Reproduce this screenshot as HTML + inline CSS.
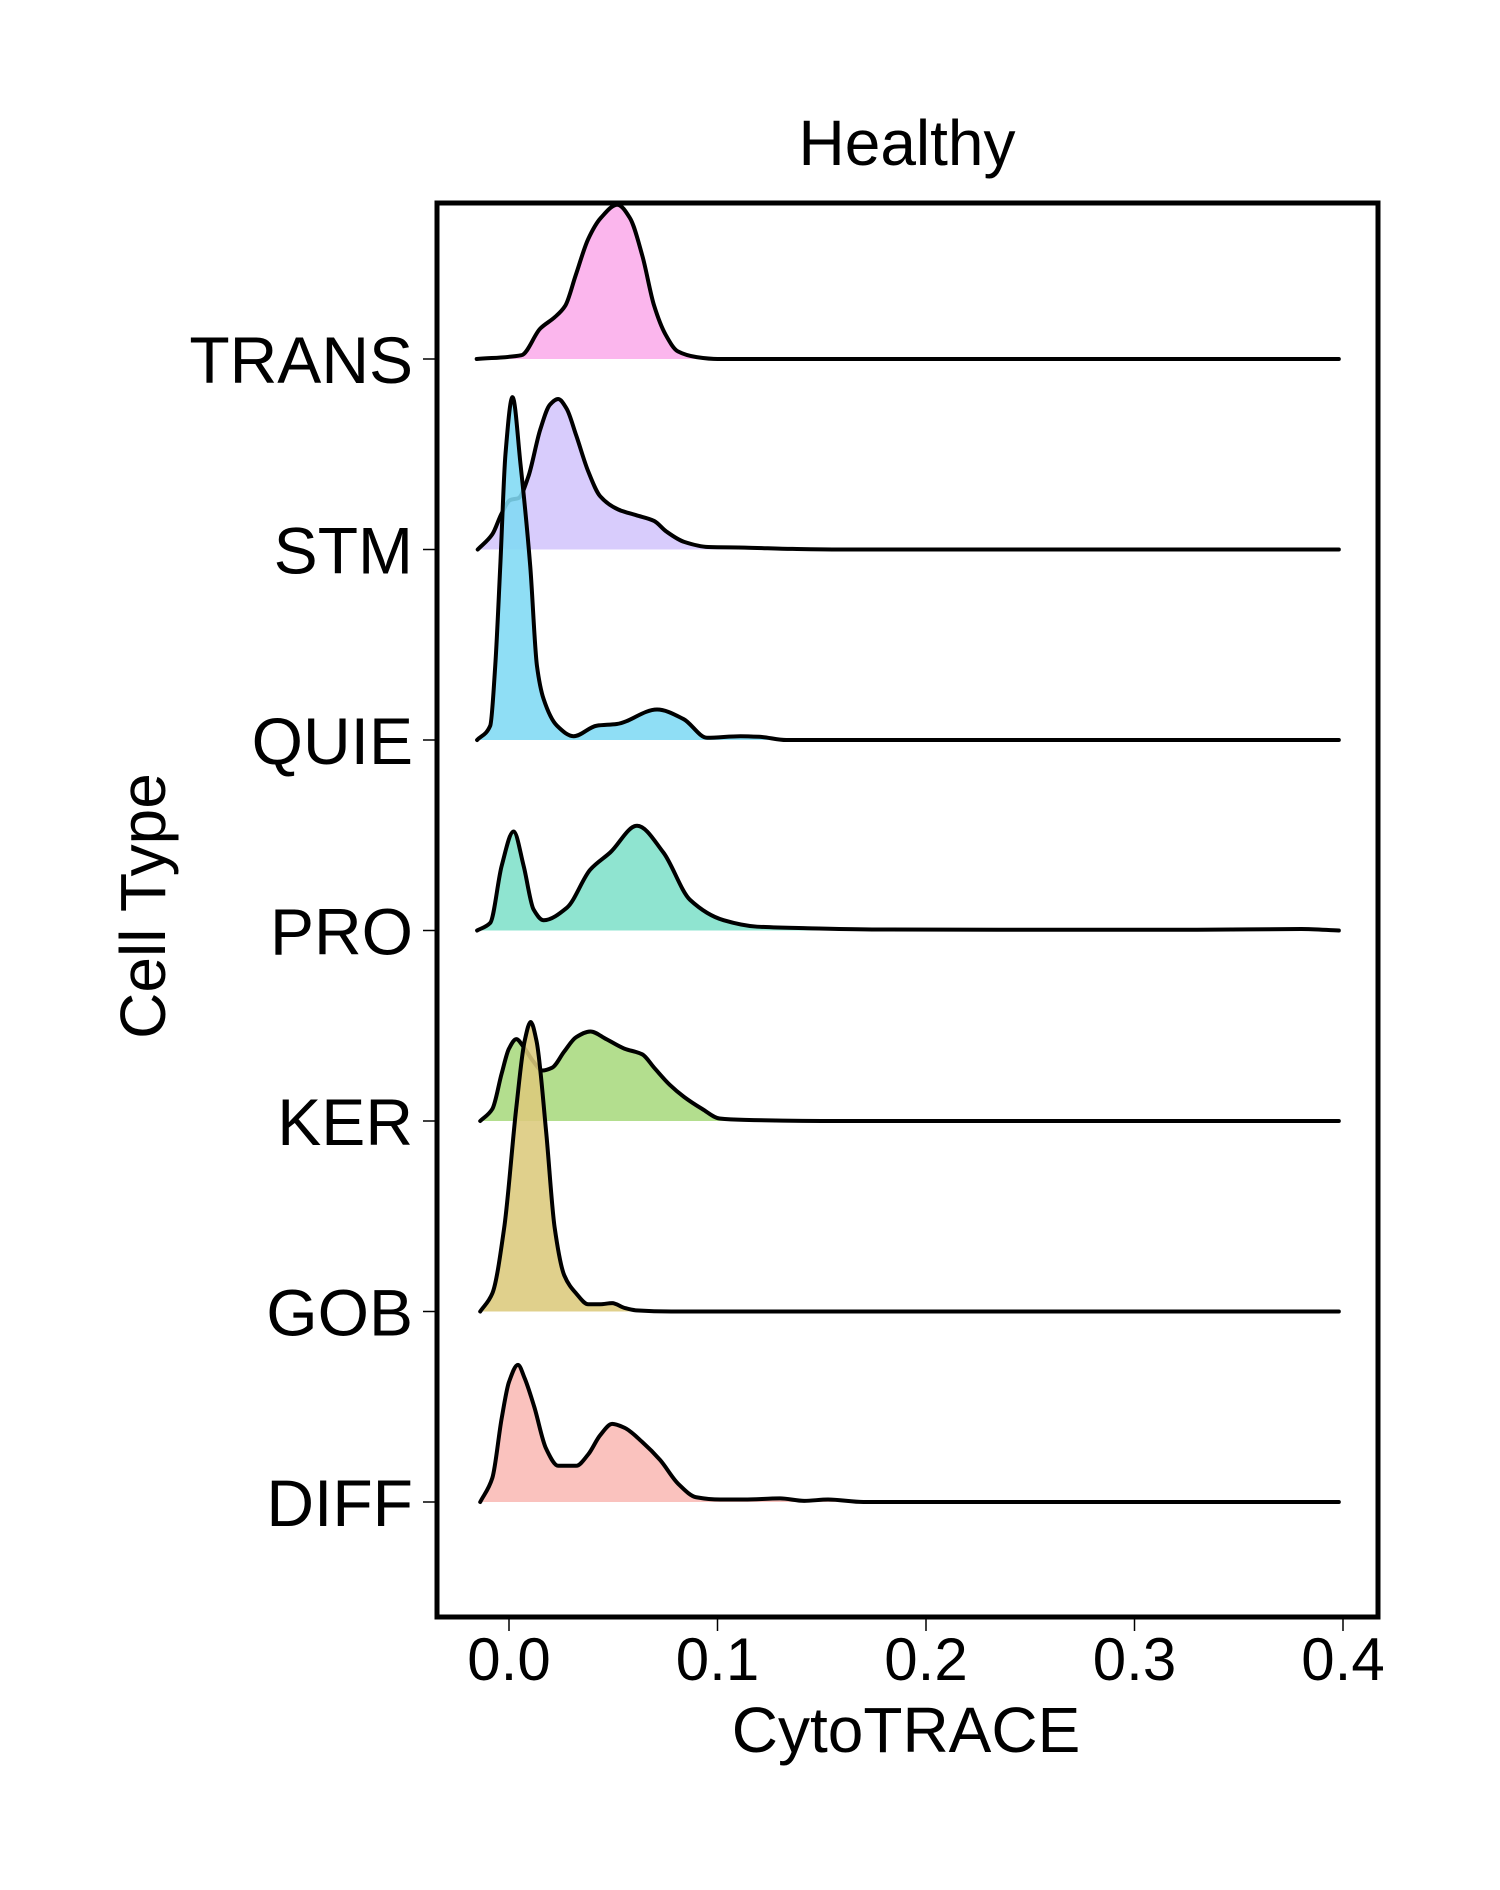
<!DOCTYPE html>
<html><head><meta charset="utf-8">
<style>
html,body{margin:0;padding:0;background:#fff;}
svg{display:block;font-family:"Liberation Sans",sans-serif;}
</style></head>
<body>
<svg id="chart" width="1500" height="1890" viewBox="0 0 1500 1890" xmlns="http://www.w3.org/2000/svg">
<text x="907" y="165" font-size="64" text-anchor="middle">Healthy</text>
<g id="ridges"></g>
<rect x="437" y="203" width="941" height="1414" fill="none" stroke="#000" stroke-width="5"/>
<g id="axes"></g>
<text x="906" y="1752" font-size="64" text-anchor="middle">CytoTRACE</text>
<text transform="translate(165,906) rotate(-90)" font-size="64" text-anchor="middle">Cell Type</text>
</svg>
<script>
const categories = ["TRANS","STM","QUIE","PRO","KER","GOB","DIFF"];
const xTicks = [0.0, 0.1, 0.2, 0.3, 0.4];
const xTickLabels = ["0.0","0.1","0.2","0.3","0.4"];
const colors = ["#fbaceb","#d3c5fc","#7fdaf4","#80e0c9","#a9da7e","#dcc97c","#f9b9b5"];
// each series: [CytoTRACE value, density height (fraction of row spacing)]
const transDensity = [[-0.0155,0],[0.006,0.02],[0.015,0.16],[0.022,0.22],[0.027,0.28],[0.032,0.44],[0.038,0.63],[0.044,0.74],[0.052,0.81],[0.058,0.74],[0.064,0.54],[0.0696,0.28],[0.075,0.13],[0.081,0.04],[0.09,0.01],[0.1,0],[0.398,0]];
const stmDensity = [[-0.015,0],[-0.008,0.08],[-0.0035,0.19],[0.0006,0.26],[0.0046,0.27],[0.0092,0.38],[0.015,0.63],[0.0196,0.76],[0.0236,0.79],[0.0276,0.74],[0.0322,0.6],[0.038,0.41],[0.0437,0.28],[0.0524,0.21],[0.061,0.18],[0.0696,0.15],[0.0754,0.095],[0.084,0.04],[0.0955,0.013],[0.113,0.01],[0.136,0.003],[0.159,0],[0.398,0]];
const quieDensity = [[-0.0153,0],[-0.009,0.075],[-0.0066,0.39],[-0.0042,0.91],[-0.0017,1.5],[0.0017,1.8],[0.0055,1.45],[0.0102,0.91],[0.0134,0.39],[0.0166,0.215],[0.023,0.075],[0.031,0.02],[0.042,0.075],[0.0517,0.084],[0.071,0.16],[0.0837,0.11],[0.095,0.012],[0.111,0.02],[0.12,0.017],[0.133,0],[0.398,0]];
const proDensity = [[-0.0153,0],[-0.009,0.04],[-0.0035,0.34],[0.0022,0.52],[0.007,0.34],[0.0118,0.11],[0.0166,0.054],[0.0278,0.12],[0.039,0.32],[0.0486,0.41],[0.0614,0.55],[0.074,0.41],[0.0869,0.16],[0.1029,0.054],[0.119,0.02],[0.143,0.012],[0.18,0.005],[0.25,0.004],[0.33,0.004],[0.38,0.008],[0.398,0]];
const kerDensity = [[-0.0138,0],[-0.008,0.063],[-0.0035,0.25],[0,0.38],[0.0035,0.43],[0.0069,0.39],[0.0115,0.315],[0.016,0.265],[0.0207,0.28],[0.0265,0.365],[0.0322,0.44],[0.039,0.47],[0.0466,0.43],[0.0553,0.38],[0.0639,0.35],[0.0696,0.28],[0.0771,0.19],[0.084,0.126],[0.0927,0.063],[0.101,0.013],[0.113,0.006],[0.159,0],[0.398,0]];
const gobDensity = [[-0.0138,0],[-0.008,0.095],[-0.0023,0.44],[0.0035,1.07],[0.0075,1.42],[0.0104,1.52],[0.0132,1.42],[0.0178,0.945],[0.0219,0.44],[0.0265,0.19],[0.0322,0.095],[0.038,0.038],[0.0437,0.038],[0.0495,0.044],[0.0553,0.019],[0.061,0.006],[0.078,0],[0.398,0]];
const diffDensity = [[-0.0138,0],[-0.008,0.126],[-0.0035,0.44],[0,0.63],[0.0043,0.72],[0.0075,0.65],[0.0121,0.5],[0.0178,0.28],[0.0236,0.19],[0.0322,0.19],[0.038,0.25],[0.0437,0.35],[0.0495,0.41],[0.0553,0.39],[0.0639,0.315],[0.0725,0.22],[0.0812,0.095],[0.0898,0.025],[0.1013,0.013],[0.1128,0.013],[0.13,0.019],[0.1416,0.006],[0.153,0.013],[0.17,0],[0.398,0]];
const series = [transDensity, stmDensity, quieDensity, proDensity, kerDensity, gobDensity, diffDensity];

const NS = "http://www.w3.org/2000/svg";
const xScale = v => 509 + v * 2085;
const rowBase = i => 359 + i * 190.5;
const hScale = h => h * 190.5;

// monotone cubic (Fritsch-Carlson) in x
function smoothPath(pts){
  const n = pts.length;
  const dx = [], m = [], t = new Array(n);
  for (let i = 0; i < n-1; i++){ dx.push(pts[i+1][0]-pts[i][0]); m.push((pts[i+1][1]-pts[i][1])/dx[i]); }
  t[0] = m[0]; t[n-1] = m[n-2];
  for (let i = 1; i < n-1; i++){
    if (m[i-1]*m[i] <= 0) t[i] = 0;
    else { const w1 = 2*dx[i]+dx[i-1], w2 = dx[i]+2*dx[i-1]; t[i] = (w1+w2)/(w1/m[i-1]+w2/m[i]); }
  }
  let d = "M" + pts[0][0].toFixed(2) + "," + pts[0][1].toFixed(2);
  for (let i = 0; i < n-1; i++){
    const h = dx[i]/3;
    d += " C" + (pts[i][0]+h).toFixed(2) + "," + (pts[i][1]+t[i]*h).toFixed(2) + " " +
         (pts[i+1][0]-h).toFixed(2) + "," + (pts[i+1][1]-t[i+1]*h).toFixed(2) + " " +
         pts[i+1][0].toFixed(2) + "," + pts[i+1][1].toFixed(2);
  }
  return d;
}

const ridges = document.getElementById("ridges");
series.forEach((s, i) => {
  const base = rowBase(i);
  const pts = s.map(p => [xScale(p[0]), base - hScale(p[1])]);
  const line = smoothPath(pts);
  const g = document.createElementNS(NS, "g");
  
  
  const fill = document.createElementNS(NS, "path");
  fill.setAttribute("d", line + " L" + pts[pts.length-1][0] + "," + base + " L" + pts[0][0] + "," + base + " Z");
  fill.setAttribute("fill", colors[i]);
  fill.setAttribute("fill-opacity", "0.88");
  
  
  const stroke = document.createElementNS(NS, "path");
  stroke.setAttribute("d", line);
  stroke.setAttribute("fill", "none");
  stroke.setAttribute("stroke", "#000");
  stroke.setAttribute("stroke-width", "4");
  stroke.setAttribute("stroke-linejoin", "round");
  stroke.setAttribute("stroke-linecap", "round");
  
  
  g.appendChild(fill); g.appendChild(stroke);
  ridges.appendChild(g);
});

const axes = document.getElementById("axes");
categories.forEach((c, i) => {
  const y = rowBase(i);
  const tk = document.createElementNS(NS, "line");
  tk.setAttribute("x1", 423); tk.setAttribute("x2", 437);
  tk.setAttribute("y1", y); tk.setAttribute("y2", y);
  tk.setAttribute("stroke", "#000"); tk.setAttribute("stroke-width", "1.5");
  
  
  axes.appendChild(tk);
  const t = document.createElementNS(NS, "text");
  t.setAttribute("x", 413); t.setAttribute("y", y + 24);
  t.setAttribute("font-size", "66"); t.setAttribute("text-anchor", "end");
  t.textContent = c;
  
  
  axes.appendChild(t);
});
xTicks.forEach((v, i) => {
  const x = xScale(v);
  const tk = document.createElementNS(NS, "line");
  tk.setAttribute("x1", x); tk.setAttribute("x2", x);
  tk.setAttribute("y1", 1617); tk.setAttribute("y2", 1631);
  tk.setAttribute("stroke", "#000"); tk.setAttribute("stroke-width", "1.5");
  
  
  axes.appendChild(tk);
  const t = document.createElementNS(NS, "text");
  t.setAttribute("x", x); t.setAttribute("y", 1680);
  t.setAttribute("font-size", "60"); t.setAttribute("text-anchor", "middle");
  t.textContent = xTickLabels[i];
  
  
  axes.appendChild(t);
});
</script>
</body></html>
